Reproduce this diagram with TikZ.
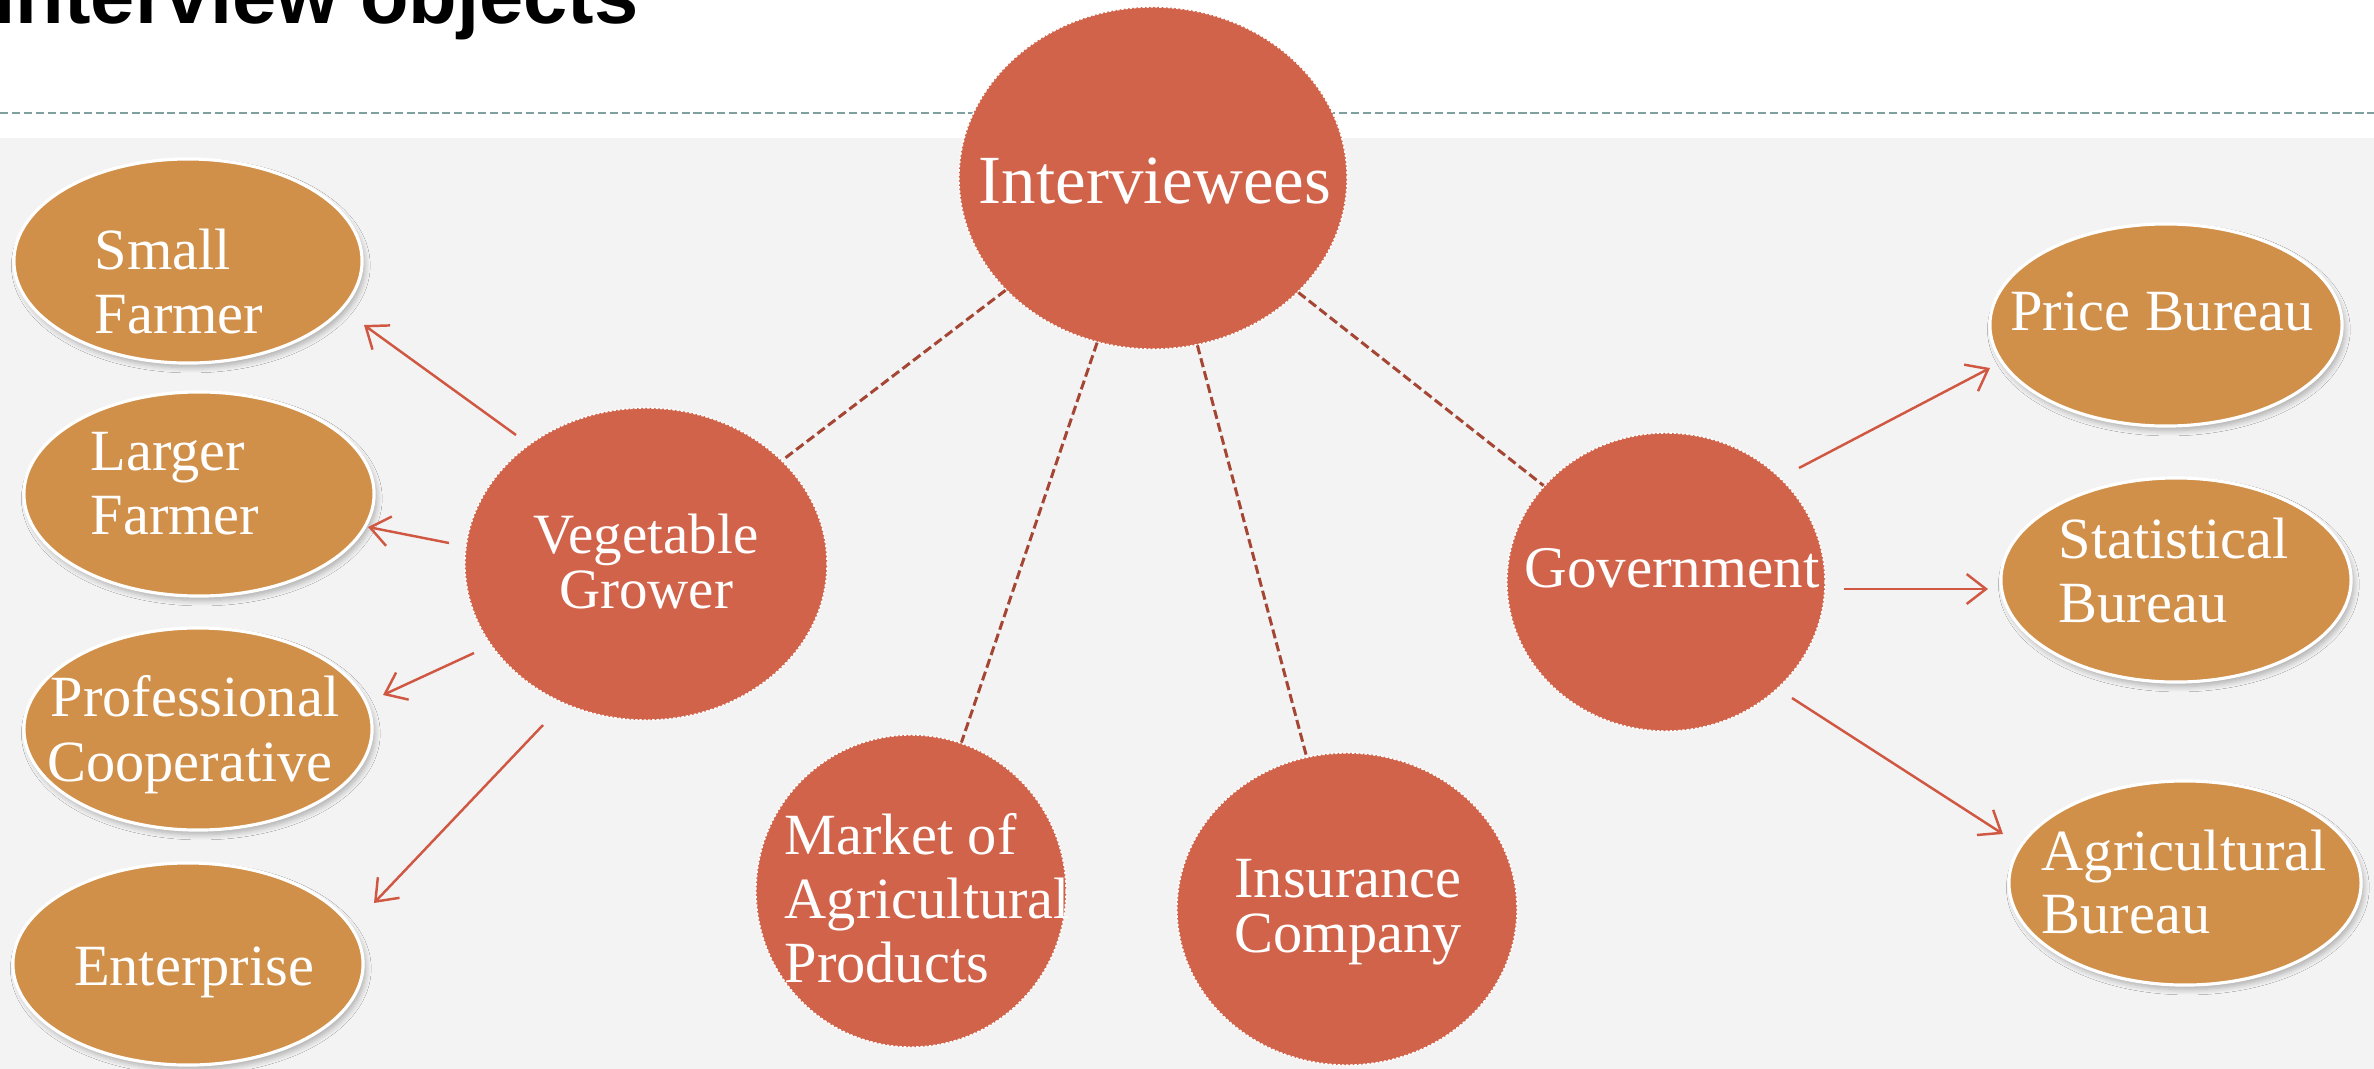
\documentclass[tikz,border=0pt]{standalone}
\usepackage{fontspec}
\setmainfont{Liberation Serif}
\newfontfamily\titlefont{Liberation Sans}
\usetikzlibrary{shapes.geometric,arrows.meta,calc,shadows.blur}
\definecolor{redc}{RGB}{209,99,74}
\definecolor{orc}{RGB}{209,144,74}
\definecolor{arrc}{RGB}{208,88,66}
\definecolor{connc}{RGB}{165,70,52}
\definecolor{rulec}{RGB}{127,160,158}
\definecolor{bgc}{RGB}{243,243,243}
\begin{document}
\begin{tikzpicture}[x=0.01cm,y=-0.01cm,
  redell/.style={ellipse, fill=redc, draw=white, line width=0.45pt, dash pattern=on 0.7pt off 0.5pt, inner sep=0pt},
  orell/.style={ellipse, fill=orc, draw=white, line width=0.9pt, inner sep=0pt,
     blur shadow={shadow xshift=0.8pt, shadow yshift=-1.3pt, shadow blur steps=6, shadow opacity=28, shadow blur radius=1.5pt}},
  lbl/.style={text=white, inner sep=0pt, font=\fontsize{16.6}{18}\selectfont},
  conn/.style={draw=connc, line width=0.85pt, dash pattern=on 2.6pt off 1.2pt},
  arr/.style={draw=arrc, line width=0.7pt, -{Straight Barb[length=5.5pt,width=8.5pt,line width=0.7pt]}}
]
\useasboundingbox (0,0) rectangle (2374,1069);
\clip (0,0) rectangle (2374,1069);
\fill[white] (0,0) rectangle (2374,1069);
\fill[bgc] (0,138) rectangle (2374,1069);
\draw[rulec, line width=0.6pt, dash pattern=on 2.3pt off 1.1pt] (0,113) coordinate (ruleL) -- (2374,113) coordinate (ruleR);

% title (cut off at the top edge, as in the reference)
\node[anchor=base west, inner sep=0pt, font=\titlefont\bfseries\fontsize{22.6}{26}\selectfont] (title) at (-7,23) {Interview objects};

% central and second-level red ellipses
\node[redell, minimum width=3.88cm, minimum height=3.42cm] (intv) at (1153,178) {};
\node[redell, minimum width=3.62cm, minimum height=3.12cm] (veg) at (646,564) {};
\node[redell, minimum width=3.18cm, minimum height=2.98cm] (gov) at (1666,582) {};
\node[redell, minimum width=3.10cm, minimum height=3.12cm] (mkt) at (911,891) {};
\node[redell, minimum width=3.40cm, minimum height=3.12cm] (ins) at (1347,909) {};

% orange ellipses
\node[orell, minimum width=3.48cm, minimum height=2.04cm] (small) at (188,261) {};
\node[orell, minimum width=3.50cm, minimum height=2.04cm] (large) at (199,494) {};
\node[orell, minimum width=3.48cm, minimum height=2.02cm] (prof) at (198,729) {};
\node[orell, minimum width=3.50cm, minimum height=2.02cm] (ent) at (188,964) {};
\node[orell, minimum width=3.52cm, minimum height=2.02cm] (price) at (2166,325) {};
\node[orell, minimum width=3.50cm, minimum height=2.04cm] (stat) at (2176,580) {};
\node[orell, minimum width=3.52cm, minimum height=2.04cm] (agri) at (2185,883) {};

% dashed connectors
\draw[conn] (intv) -- (veg);
\draw[conn] (intv) -- (mkt);
\draw[conn] (intv) -- (ins);
\draw[conn] (intv) -- (gov);

% arrows
\draw[arr] ($(veg)+(-130,-129)$) -- ($(small)+(176,64)$);
\draw[arr] ($(veg)+(-197,-21)$) -- ($(large)+(169,33)$);
\draw[arr] ($(veg)+(-172,89)$) -- ($(prof)+(185,-34)$);
\draw[arr] ($(veg)+(-103,161)$) -- ($(ent)+(186,-61)$);
\draw[arr] ($(gov)+(133,-114)$) -- ($(price)+(-176,43)$);
\draw[arr] ($(gov)+(178,7)$) -- ($(stat)+(-188,9)$);
\draw[arr] ($(gov)+(126,116)$) -- ($(agri)+(-182,-49)$);

% labels
\node[lbl, anchor=base, font=\fontsize{19.6}{22}\selectfont] (tIntv) at (1155,203) {Interviewees};
\node[lbl, anchor=base, font=\fontsize{16.2}{18}\selectfont] (tVeg1) at (646,553) {Vegetable};
\node[lbl, anchor=base, font=\fontsize{16.2}{18}\selectfont] (tVeg2) at (646,608) {Grower};
\node[lbl, anchor=base, font=\fontsize{16.8}{18}\selectfont] (tGov) at (1672,587) {Government};
\node[lbl, anchor=base west] (tMkt1) at (784,854) {Market of};
\node[lbl, anchor=base west] (tMkt2) at (784,918) {Agricultural};
\node[lbl, anchor=base west] (tMkt3) at (784,982) {Products};
\node[lbl, anchor=base] (tIns1) at (1348,897) {Insurance};
\node[lbl, anchor=base] (tIns2) at (1348,952) {Company};
\node[lbl, anchor=base west] (tSm1) at (94,269) {Small};
\node[lbl, anchor=base west] (tSm2) at (94,333) {Farmer};
\node[lbl, anchor=base west] (tLg1) at (90,470) {Larger};
\node[lbl, anchor=base west] (tLg2) at (90,534) {Farmer};
\node[lbl, anchor=base] (tPr1) at (195,716) {Professional};
\node[lbl, anchor=base] (tPr2) at (190,781) {Cooperative};
\node[lbl, anchor=base] (tEnt) at (194,985) {Enterprise};
\node[lbl, anchor=base] (tPrice) at (2162,330) {Price Bureau};
\node[lbl, anchor=base west] (tSt1) at (2058,558) {Statistical};
\node[lbl, anchor=base west] (tSt2) at (2058,622) {Bureau};
\node[lbl, anchor=base west] (tAg1) at (2041,870) {Agricultural};
\node[lbl, anchor=base west] (tAg2) at (2041,933) {Bureau};
\end{tikzpicture}
\end{document}
